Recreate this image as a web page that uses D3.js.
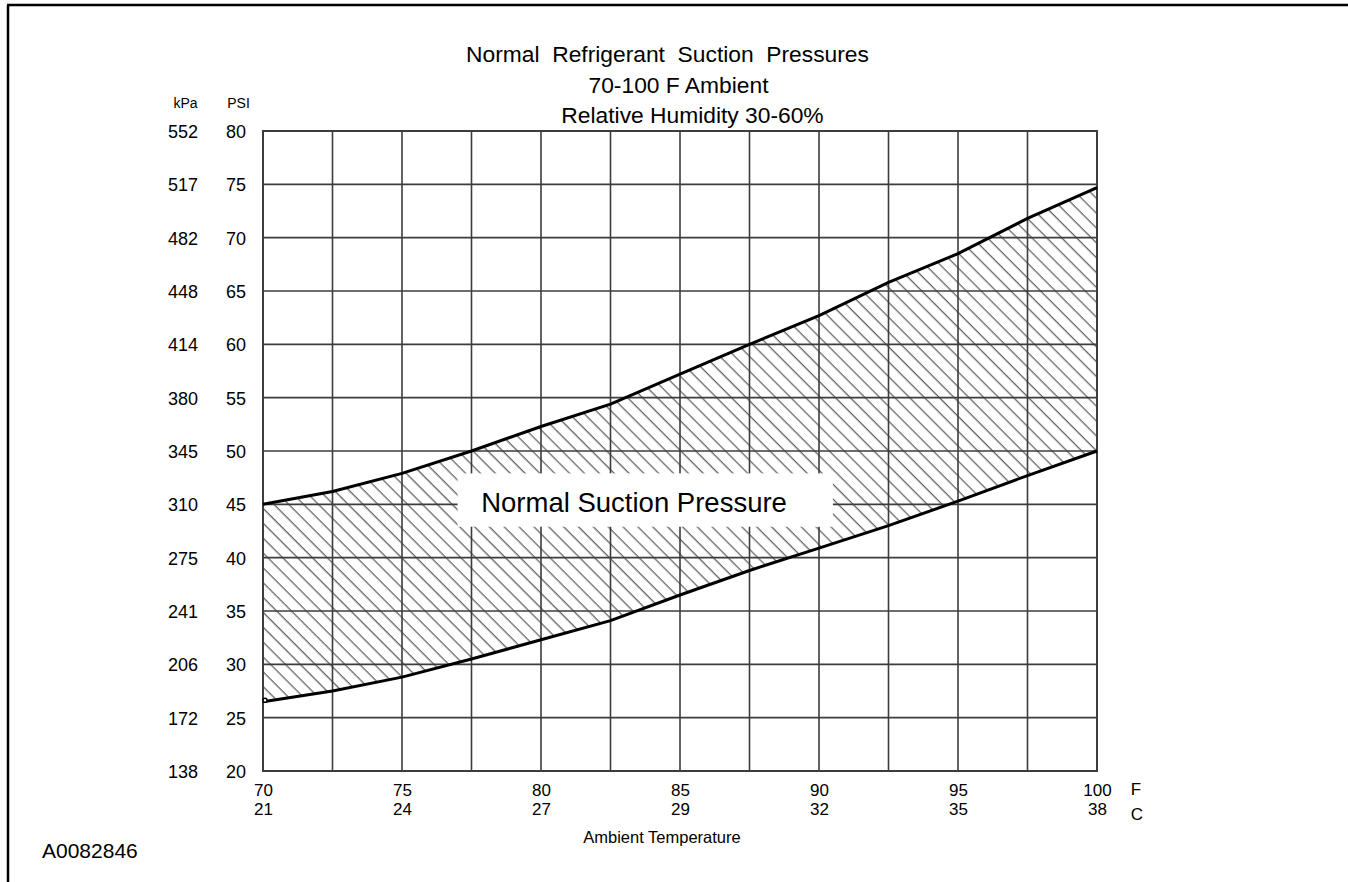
<!DOCTYPE html>
<html>
<head>
<meta charset="utf-8">
<script src="https://cdn.jsdelivr.net/npm/d3@7"></script>
<style>
  html, body { margin: 0; padding: 0; background: #fff; }
  svg { display: block; font-family: "Liberation Sans", Arial, sans-serif; }
</style>
</head>
<body>
<svg id="chart" width="1348" height="882"></svg>
<script>
// ---- data ----
const TITLE_LINES = ["Normal  Refrigerant  Suction  Pressures", "70-100 F Ambient", "Relative Humidity 30-60%"];
const F_TICKS = [70, 75, 80, 85, 90, 95, 100];
const C_LABELS = ["21", "24", "27", "29", "32", "35", "38"];
const PSI_TICKS = [20, 25, 30, 35, 40, 45, 50, 55, 60, 65, 70, 75, 80];
const KPA_LABELS = ["138", "172", "206", "241", "275", "310", "345", "380", "414", "448", "482", "517", "552"];
const GRID_F = [70, 72.5, 75, 77.5, 80, 82.5, 85, 87.5, 90, 92.5, 95, 97.5, 100];
const TEMP_F = [70, 72.5, 75, 77.5, 80, 82.5, 85, 87.5, 90, 92.5, 95, 97.5, 100];
const UPPER_PSI = [45.0, 46.2, 47.9, 50.0, 52.3, 54.4, 57.2, 60.0, 62.7, 65.8, 68.5, 71.8, 74.7];
const LOWER_PSI = [26.5, 27.5, 28.8, 30.5, 32.3, 34.1, 36.5, 38.8, 40.9, 43.0, 45.3, 47.7, 50.0];
const BAND_LABEL = "Normal Suction Pressure";

// ---- layout ----
const svg = d3.select("#chart");
const x = d3.scaleLinear().domain([70, 100]).range([263, 1097]);
const y = d3.scaleLinear().domain([20, 80]).range([771, 131]);
const gridColor = "#3c3c3c";

// outer frame (top and left)
svg.append("path")
  .attr("d", "M7,5H1348M8,5V882")
  .attr("fill", "none").attr("stroke", "#000").attr("stroke-width", 2.5);

// hatch pattern
const defs = svg.append("defs");
const pat = defs.append("pattern")
  .attr("id", "hatch")
  .attr("patternUnits", "userSpaceOnUse")
  .attr("width", 10.5).attr("height", 10)
  .attr("patternTransform", "rotate(-45)");
pat.append("line")
  .attr("x1", 5).attr("y1", -2).attr("x2", 5).attr("y2", 12)
  .attr("stroke", "#1a1a1a").attr("stroke-width", 0.9);

const data = TEMP_F.map((f, i) => ({ f, hi: UPPER_PSI[i], lo: LOWER_PSI[i] }));

// hatched band
svg.append("path")
  .datum(data)
  .attr("fill", "url(#hatch)")
  .attr("d", d3.area().x(d => x(d.f)).y0(d => y(d.lo)).y1(d => y(d.hi)).curve(d3.curveLinear));

// grid
const grid = svg.append("g").attr("stroke", gridColor).attr("stroke-width", 1.6);
grid.selectAll("line.v").data(GRID_F).join("line").attr("class", "v")
  .attr("x1", d => x(d)).attr("x2", d => x(d))
  .attr("y1", y(80)).attr("y2", y(20));
grid.selectAll("line.h").data(PSI_TICKS).join("line").attr("class", "h")
  .attr("x1", x(70)).attr("x2", x(100))
  .attr("y1", d => y(d)).attr("y2", d => y(d));
svg.append("rect")
  .attr("x", x(70)).attr("y", y(80))
  .attr("width", x(100) - x(70)).attr("height", y(20) - y(80))
  .attr("fill", "none").attr("stroke", gridColor).attr("stroke-width", 2);

// curves
const line = d3.line().x(d => x(d.f)).curve(d3.curveLinear);
svg.append("path").datum(data)
  .attr("fill", "none").attr("stroke", "#000").attr("stroke-width", 3)
  .attr("d", line.y(d => y(d.hi)));
svg.append("path").datum(data)
  .attr("fill", "none").attr("stroke", "#000").attr("stroke-width", 3)
  .attr("d", line.y(d => y(d.lo)));
svg.append("circle")
  .attr("cx", x(TEMP_F[0]) + 2).attr("cy", y(LOWER_PSI[0]) - 1.5).attr("r", 2)
  .attr("fill", "#fff").attr("stroke", "#000").attr("stroke-width", 1.5);

// band label with white box
svg.append("rect")
  .attr("x", x(77.0)).attr("y", y(47.9))
  .attr("width", x(90.5) - x(77.0)).attr("height", y(42.9) - y(47.9))
  .attr("fill", "#fff");
svg.append("text")
  .attr("x", x(77.85)).attr("y", y(45) + 8)
  .attr("font-size", 27.5).attr("fill", "#000")
  .text(BAND_LABEL);

// title
const titleX = [667.5, 678.5, 692.5];
const titleY = [62, 93, 123];
svg.append("g").selectAll("text").data(TITLE_LINES).join("text")
  .attr("x", (d, i) => titleX[i]).attr("y", (d, i) => titleY[i])
  .attr("text-anchor", "middle").attr("font-size", 22.8).attr("fill", "#000")
  .style("white-space", "pre").attr("xml:space", "preserve")
  .text(d => d);

// y axes (PSI and kPa)
function styleAxis(g, anchor) {
  g.select(".domain").remove();
  g.selectAll(".tick line").remove();
  g.selectAll(".tick text").attr("x", 0).attr("text-anchor", anchor)
    .attr("fill", "#000").attr("font-family", "Liberation Sans, Arial, sans-serif");
}
const psiAxis = svg.append("g").attr("transform", "translate(236,0)")
  .call(d3.axisLeft(y).tickValues(PSI_TICKS).tickSize(0).tickFormat(d3.format("d")));
styleAxis(psiAxis, "middle");
psiAxis.selectAll(".tick text").attr("font-size", 18).attr("dy", "0.36em");

const kpaAxis = svg.append("g").attr("transform", "translate(183,0)")
  .call(d3.axisLeft(y).tickValues(PSI_TICKS).tickSize(0)
    .tickFormat(d => KPA_LABELS[PSI_TICKS.indexOf(d)]));
styleAxis(kpaAxis, "middle");
kpaAxis.selectAll(".tick text").attr("font-size", 18).attr("dy", "0.36em");

svg.append("text").attr("x", 185.5).attr("y", 108).attr("text-anchor", "middle")
  .attr("font-size", 14).text("kPa");
svg.append("text").attr("x", 238.5).attr("y", 108).attr("text-anchor", "middle")
  .attr("font-size", 14).text("PSI");

// x axes (F and C)
const fAxis = svg.append("g").attr("transform", "translate(0,796)")
  .call(d3.axisBottom(x).tickValues(F_TICKS).tickSize(0).tickFormat(d3.format("d")));
styleAxis(fAxis, "middle");
fAxis.selectAll(".tick text").attr("y", 0).attr("dy", null).attr("font-size", 17);

const cAxis = svg.append("g").attr("transform", "translate(0,815)")
  .call(d3.axisBottom(x).tickValues(F_TICKS).tickSize(0)
    .tickFormat(d => C_LABELS[F_TICKS.indexOf(d)]));
styleAxis(cAxis, "middle");
cAxis.selectAll(".tick text").attr("y", 0).attr("dy", null).attr("font-size", 17);

svg.append("text").attr("x", 1136).attr("y", 795).attr("text-anchor", "middle")
  .attr("font-size", 17).text("F");
svg.append("text").attr("x", 1137).attr("y", 820).attr("text-anchor", "middle")
  .attr("font-size", 17).text("C");

svg.append("text").attr("x", 662).attr("y", 843).attr("text-anchor", "middle")
  .attr("font-size", 16.5).text("Ambient Temperature");

svg.append("text").attr("x", 42).attr("y", 858)
  .attr("font-size", 21).text("A0082846");
</script>
</body>
</html>
